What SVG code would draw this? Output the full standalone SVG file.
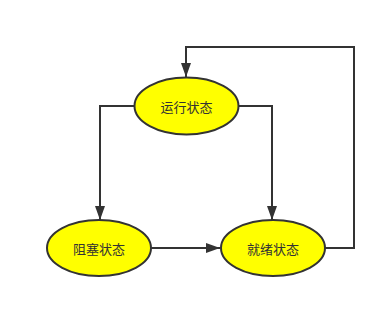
<svg xmlns="http://www.w3.org/2000/svg" width="385" height="309" viewBox="0 0 385 309">
<style>
.n ellipse{fill:#ffff00;stroke:#333;stroke-width:2}
.n text{font-family:"Noto Sans CJK SC",sans-serif;font-size:13px;fill:#333;text-anchor:middle;dominant-baseline:central}
.e path{fill:none;stroke:#333;stroke-width:2}
</style>
<defs>
<marker id="a" markerWidth="14" markerHeight="10" refX="14" refY="5" orient="auto" markerUnits="userSpaceOnUse">
<path d="M0,0 L14,5 L0,10 Z" fill="#333"/>
</marker>
</defs>
<rect width="385" height="309" fill="#fff"/>
<g class="e">
<path d="M134,106 H100 V220" marker-end="url(#a)"/>
<path d="M239,106 H272 V220" marker-end="url(#a)"/>
<path d="M151,248 H220" marker-end="url(#a)"/>
<path d="M325,248 H354 V47 H186 V77" marker-end="url(#a)"/>
</g>
<g id="running" class="n"><ellipse cx="186.5" cy="106" rx="52" ry="28.5"/><text x="186.5" y="106">运行状态</text></g>
<g id="blocked" class="n"><ellipse cx="99" cy="248" rx="52" ry="28"/><text x="99" y="248">阻塞状态</text></g>
<g id="ready" class="n"><ellipse cx="273" cy="248" rx="52" ry="28"/><text x="273" y="248">就绪状态</text></g>
</svg>
